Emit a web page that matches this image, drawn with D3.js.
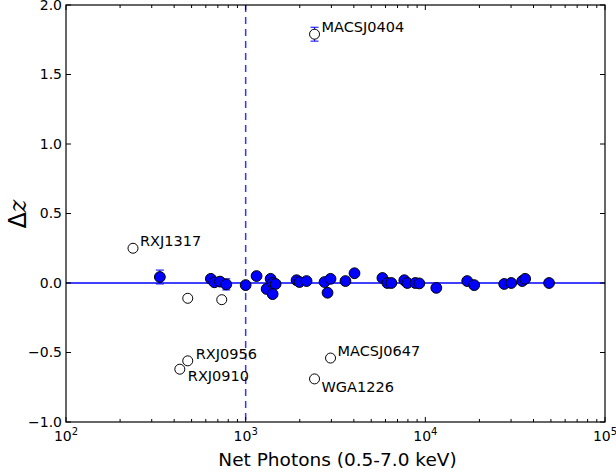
<!DOCTYPE html>
<html><head><meta charset="utf-8">
<script src="https://cdn.jsdelivr.net/npm/d3@7"></script>
<style>body{margin:0;background:#fff}svg{display:block}text{font-family:"DejaVu Sans",sans-serif}</style>
</head><body><svg id="c" width="616" height="474"></svg>
<script>
// Filled (blue) points: net photons, delta z
const photons = [333,640,670,720,780,1000,1150,1377,1308,1413,1468,1413,1920,1995,2183,2747,2967,2856,3593,4034,5770,6150,6470,7640,7940,8790,9260,11510,17100,18700,27480,30060,34600,35940,48830];
const deltaZ  = [0.043,0.03,0.005,0.01,-0.01,-0.015,0.05,0.03,-0.043,0.0,-0.007,-0.08,0.02,0.007,0.014,0.007,0.03,-0.07,0.014,0.07,0.036,0.0,0.0,0.02,0.0,0.0,-0.003,-0.035,0.014,-0.015,-0.007,0.0,0.014,0.03,0.0];
const errUp   = [0.05,0,0,0,0.04,0,0,0,0,0,0,0,0,0,0,0,0,0,0,0,0,0,0,0,0,0,0,0,0,0,0,0,0,0,0];
// Outliers (open circles)
const outPhotons = [236,476,736,476,430,2967,2417,2417];
const outDeltaZ  = [0.25,-0.11,-0.12,-0.56,-0.62,-0.54,-0.69,1.79];
const outErr     = [0,0,0,0,0,0,0,0.05];
const outNames   = ["RXJ1317","","","RXJ0956","RXJ0910","MACSJ0647","WGA1226","MACSJ0404"];
const yTicks = [-1.0,-0.5,0.0,0.5,1.0,1.5,2.0];
const xTicks = [100,1000,10000,100000];

const svg = d3.select("#c");
const L=66,R=605,T=5,B=422;
const x = d3.scaleLog().domain([100,100000]).range([L,R]);
const y = d3.scaleLinear().domain([-1,2]).range([B,T]);
const blue="#0000ff";

// reference lines
svg.append("line").attr("x1",L).attr("x2",R).attr("y1",y(0)).attr("y2",y(0)).attr("stroke",blue).attr("stroke-width",1.3);
svg.append("line").attr("x1",x(1000)).attr("x2",x(1000)).attr("y1",T).attr("y2",B).attr("stroke","#3333ff").attr("stroke-width",1.5).attr("stroke-dasharray","7,5");

// error bars
function ebar(xv,yv,e){
  if(!e) return;
  const cx=x(xv);
  svg.append("line").attr("x1",cx).attr("x2",cx).attr("y1",y(yv+e)).attr("y2",y(yv-e)).attr("stroke",blue);
  [yv+e,yv-e].forEach(v=>svg.append("line").attr("x1",cx-4).attr("x2",cx+4).attr("y1",y(v)).attr("y2",y(v)).attr("stroke",blue));
}
photons.forEach((p,i)=>ebar(p,deltaZ[i],errUp[i]));
outPhotons.forEach((p,i)=>ebar(p,outDeltaZ[i],outErr[i]));

svg.selectAll("circle.f").data(photons).join("circle").attr("class","f")
  .attr("cx",d=>x(d)).attr("cy",(d,i)=>y(deltaZ[i])).attr("r",5.4)
  .attr("fill",blue).attr("stroke","#000").attr("stroke-width",1);
svg.selectAll("circle.o").data(outPhotons).join("circle").attr("class","o")
  .attr("cx",d=>x(d)).attr("cy",(d,i)=>y(outDeltaZ[i])).attr("r",5)
  .attr("fill","#fff").attr("stroke","#000").attr("stroke-width",1);

// labels (offsets relative to point)
const lblOff = {"RXJ1317":[7,-7],"RXJ0956":[8,-7],"RXJ0910":[8,7],"MACSJ0647":[7,-7],"WGA1226":[7,8],"MACSJ0404":[7,-7]};
outNames.forEach((n,i)=>{ if(!n) return;
  const o=lblOff[n];
  svg.append("text").attr("x",x(outPhotons[i])+o[0]).attr("y",y(outDeltaZ[i])+o[1]).attr("dy","0.35em")
    .attr("font-size",14.5).attr("fill","#000").text(n);
});

// frame
svg.append("rect").attr("x",L).attr("y",T).attr("width",R-L).attr("height",B-T).attr("fill","none").attr("stroke","#000").attr("stroke-width",1.2);

// ticks (inward, all sides)
const g=svg.append("g").attr("stroke","#000").attr("stroke-width",1);
yTicks.forEach(v=>{
  g.append("line").attr("x1",L).attr("x2",L+5).attr("y1",y(v)).attr("y2",y(v));
  g.append("line").attr("x1",R).attr("x2",R-5).attr("y1",y(v)).attr("y2",y(v));
});
const minor=[];
for(let d=100; d<100000; d*=10) for(let k=2;k<10;k++) minor.push(d*k);
xTicks.forEach(v=>{
  g.append("line").attr("x1",x(v)).attr("x2",x(v)).attr("y1",B).attr("y2",B-5);
  g.append("line").attr("x1",x(v)).attr("x2",x(v)).attr("y1",T).attr("y2",T+5);
});
minor.forEach(v=>{
  g.append("line").attr("x1",x(v)).attr("x2",x(v)).attr("y1",B).attr("y2",B-3);
  g.append("line").attr("x1",x(v)).attr("x2",x(v)).attr("y1",T).attr("y2",T+3);
});

// tick labels
yTicks.forEach(v=>{
  svg.append("text").attr("x",L-4).attr("y",y(v)).attr("dy","0.35em").attr("text-anchor","end")
    .attr("font-size",14).text((v<0?"\u2212":"")+Math.abs(v).toFixed(1));
});
xTicks.forEach(v=>{
  const t=svg.append("text").attr("x",x(v)).attr("y",B+19).attr("text-anchor","middle").attr("font-size",14);
  t.append("tspan").text("10");
  t.append("tspan").attr("dy",-6).attr("font-size",10).text(Math.round(Math.log10(v)));
});

// axis titles
svg.append("text").attr("x",(L+R)/2+2).attr("y",466).attr("text-anchor","middle").attr("font-size",18.5).text("Net Photons (0.5-7.0 keV)");
const yl=svg.append("text").attr("transform","translate(26,214) rotate(-90)").attr("text-anchor","middle").attr("font-size",24);
yl.append("tspan").text("\u0394");
yl.append("tspan").attr("font-style","italic").attr("font-family","DejaVu Serif").text("z");
</script></body></html>
